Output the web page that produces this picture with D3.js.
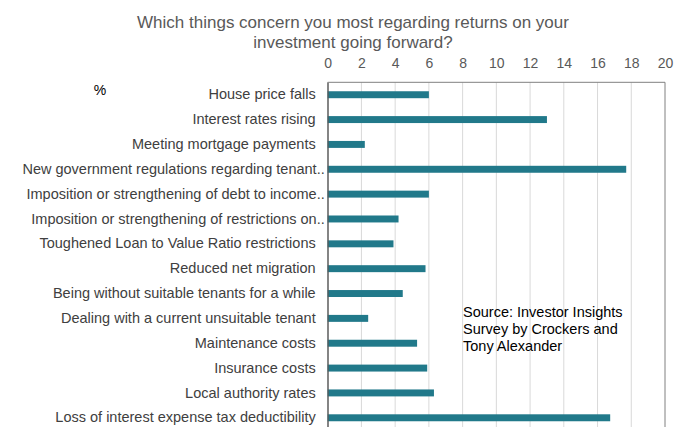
<!DOCTYPE html>
<html>
<head>
    <meta charset="utf-8">
    <title>Investment concerns</title>
    <script src="https://cdn.jsdelivr.net/npm/d3@7"></script>
    <style>
        body { margin: 0; background: #fff; }
        text { font-family: "Liberation Sans", Arial, sans-serif; }
    </style>
</head>
<body>
    <svg id="drawingplace" width="685" height="427"></svg>
    <script>
        // chart data
        let categories = [
            "House price falls",
            "Interest rates rising",
            "Meeting mortgage payments",
            "New government regulations regarding tenant..",
            "Imposition or strengthening of debt to income..",
            "Imposition or strengthening of restrictions on..",
            "Toughened Loan to Value Ratio restrictions",
            "Reduced net migration",
            "Being without suitable tenants for a while",
            "Dealing with a current unsuitable tenant",
            "Maintenance costs",
            "Insurance costs",
            "Local authority rates",
            "Loss of interest expense tax deductibility"
        ]
        let values = [6.0, 13.0, 2.2, 17.7, 6.0, 4.2, 3.9, 5.8, 4.45, 2.4, 5.3, 5.9, 6.3, 16.75]
        let xTicks = [0, 2, 4, 6, 8, 10, 12, 14, 16, 18, 20]
        let titleLines = ["Which things concern you most regarding returns on your", "investment going forward?"]
        let sourceLines = ["Source: Investor Insights", "Survey by Crockers and", "Tony Alexander"]

        let svg = d3.select("#drawingplace")
        let plot = {left: 327.7, right: 665, top: 82.3, step: 24.85}
        let plotBottom = plot.top + plot.step * categories.length

        let x = d3.scaleLinear().domain([0, 20]).range([plot.left, plot.right])
        let y = d3.scaleBand().domain(categories).range([plot.top, plotBottom]).paddingInner(0.72).paddingOuter(0.36)

        // title
        svg.append("text")
            .attr("x", 353).attr("y", 28)
            .attr("text-anchor", "middle")
            .attr("fill", "#595959")
            .style("font-size", "17px")
            .selectAll("tspan")
            .data(titleLines)
            .enter().append("tspan")
            .attr("x", 353)
            .attr("dy", (d, i) => i == 0 ? 0 : 20)
            .text(d => d)

        // gridlines
        svg.append("g")
            .selectAll("line")
            .data(xTicks.slice(1, -1))
            .enter().append("line")
            .attr("x1", d => x(d)).attr("x2", d => x(d))
            .attr("y1", plot.top).attr("y2", plotBottom)
            .attr("stroke", "#d9d9d9").attr("stroke-width", 1)

        // plot border (top, right)
        svg.append("path")
            .attr("d", `M${plot.left},${plotBottom}V${plot.top}H${plot.right}V${plotBottom}`)
            .attr("fill", "none").attr("stroke", "#808080").attr("stroke-width", 1)

        // top axis
        let xAxis = svg.append("g")
            .attr("transform", `translate(0,${plot.top})`)
            .call(d3.axisTop(x).tickValues(xTicks).tickSize(0).tickPadding(14))
        xAxis.select(".domain").remove()
        xAxis.selectAll("text")
            .attr("fill", "#595959")
            .style("font-size", "14px")
            .style("font-family", "'Liberation Sans', Arial, sans-serif")

        // bars
        svg.append("g")
            .selectAll("rect")
            .data(values)
            .enter().append("rect")
            .attr("x", x(0))
            .attr("y", (d, i) => y(categories[i]))
            .attr("width", d => x(d) - x(0))
            .attr("height", y.bandwidth())
            .attr("fill", "#21798a")

        // left axis with category labels
        let yAxis = svg.append("g")
            .attr("transform", `translate(${plot.left},0)`)
            .call(d3.axisLeft(y).tickSize(0).tickPadding(12))
        yAxis.select(".domain").attr("stroke", "#595959")
        yAxis.selectAll("text")
            .attr("fill", "#404040")
            .attr("dx", d => d.endsWith("..") ? 9 : 0)
            .style("font-size", "14.5px")
            .style("font-family", "'Liberation Sans', Arial, sans-serif")

        // unit label
        svg.append("text")
            .attr("x", 100).attr("y", 95)
            .attr("text-anchor", "middle")
            .attr("fill", "#000")
            .style("font-size", "14px")
            .text("%")

        // source note
        svg.append("text")
            .attr("fill", "#000")
            .style("font-size", "14.5px")
            .selectAll("tspan")
            .data(sourceLines)
            .enter().append("tspan")
            .attr("x", 463)
            .attr("y", (d, i) => 317 + i * 17)
            .text(d => d)
    </script>
</body>
</html>
